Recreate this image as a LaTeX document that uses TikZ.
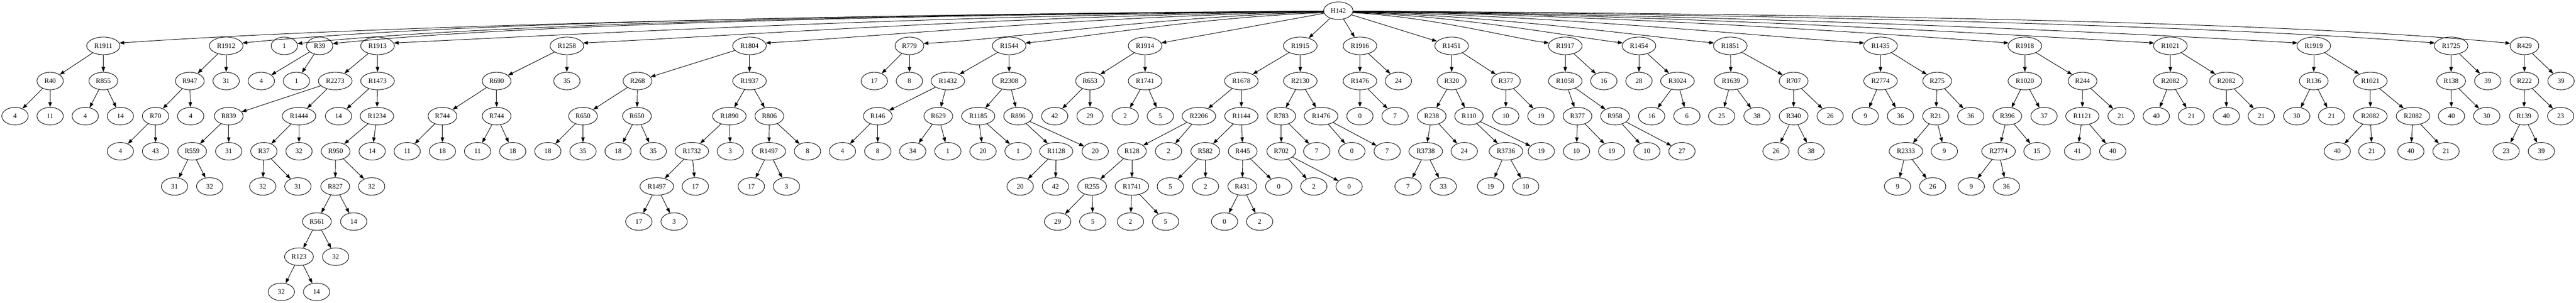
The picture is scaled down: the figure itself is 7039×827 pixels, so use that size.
\documentclass[tikz,border=0pt]{standalone}
\usepackage{fontspec}
\setmainfont{Liberation Serif}
\usetikzlibrary{arrows.meta,shapes.geometric}
\newcommand\mkN[4]{\node[nd] (#1) at (#2,{-29.3-96*#3}) {#4};}
\newcommand\mkE[2]{\draw[edge] (#1) -- (#2);}
\newcommand\mkC[5]{\draw[edge] (H.#2) .. controls #4 and #5 .. (#1.#3);}
\begin{document}
\begin{tikzpicture}[x=0.09375pt,y=0.09375pt,
  nd/.style={draw,ellipse,line width=0.125pt,minimum width=6.75pt,minimum height=4.5pt,
    inner xsep=0.7125pt,inner ysep=0.25pt,font=\fontsize{1.75pt}{2pt}\selectfont},
  edge/.style={line width=0.125pt,-{Triangle[length=1.25pt,width=0.9pt]}}]
\fill[white] (0,0) rectangle (7039,-827);
\useasboundingbox (0,0) rectangle (7039,-827);
% root
\mkN{H}{3657}{0}{H142}
% level 1
\mkN{a1}{282.4}{1}{R1911}
\mkN{a2}{618}{1}{R1912}
\mkN{a3}{777}{1}{1}
\mkN{a4}{873.5}{1}{R39}
\mkN{a5}{1031.6}{1}{R1913}
\mkN{a6}{1549}{1}{R1258}
\mkN{a7}{2048}{1}{R1804}
\mkN{a8}{2485}{1}{R779}
\mkN{a9}{2757.5}{1}{R1544}
\mkN{a10}{3129}{1}{R1914}
\mkN{a11}{3553}{1}{R1915}
\mkN{a12}{3716}{1}{R1916}
\mkN{a13}{3966.6}{1}{R1451}
\mkN{a14}{4277}{1}{R1917}
\mkN{a15}{4478.5}{1}{R1454}
\mkN{a16}{4728}{1}{R1851}
\mkN{a17}{5138.5}{1}{R1435}
\mkN{a18}{5533}{1}{R1918}
\mkN{a19}{5930.5}{1}{R1021}
\mkN{a20}{6322.4}{1}{R1919}
\mkN{a21}{6697.6}{1}{R1725}
\mkN{a22}{6898}{1}{R429}
% a1
\mkN{b1}{137}{2}{R40}
\mkN{b2}{282.4}{2}{R855}
\mkN{c1}{41}{3}{4}
\mkN{c2}{137}{3}{11}
\mkN{c3}{233}{3}{4}
\mkN{c4}{329}{3}{14}
% a2
\mkN{b3}{518.6}{2}{R947}
\mkN{b4}{618}{2}{31}
\mkN{c5}{425}{3}{R70}
\mkN{c6}{521}{3}{4}
\mkN{d1}{329}{4}{4}
\mkN{d2}{425}{4}{43}
% a4
\mkN{b5}{714}{2}{4}
\mkN{b6}{810}{2}{1}
% a5
\mkN{b7}{916}{2}{R2273}
\mkN{b8}{1031.6}{2}{R1473}
\mkN{c7}{625}{3}{R839}
\mkN{c8}{817}{3}{R1444}
\mkN{d3}{525}{4}{R559}
\mkN{d4}{625}{4}{31}
\mkN{e1}{477}{5}{31}
\mkN{e2}{573}{5}{32}
\mkN{d5}{721}{4}{R37}
\mkN{d6}{817}{4}{32}
\mkN{e3}{718}{5}{32}
\mkN{e4}{814}{5}{31}
\mkN{c9}{925}{3}{14}
\mkN{c10}{1030}{3}{R1234}
\mkN{d7}{917}{4}{R950}
\mkN{d8}{1017}{4}{14}
\mkN{e5}{916}{5}{R827}
\mkN{e6}{1015.5}{5}{32}
\mkN{f1}{866}{6}{R561}
\mkN{f2}{966.5}{6}{14}
\mkN{g1}{817}{7}{R123}
\mkN{g2}{917}{7}{32}
\mkN{h1}{768.7}{8}{32}
\mkN{h2}{865}{8}{14}
% a6
\mkN{b9}{1357}{2}{R690}
\mkN{b10}{1549}{2}{35}
\mkN{c11}{1209}{3}{R744}
\mkN{c12}{1357}{3}{R744}
\mkN{d9}{1112.7}{4}{11}
\mkN{d10}{1209}{4}{18}
\mkN{d11}{1305}{4}{11}
\mkN{d12}{1401}{4}{18}
% a7
\mkN{b11}{1742}{2}{R268}
\mkN{b12}{2048}{2}{R1937}
\mkN{c13}{1593}{3}{R650}
\mkN{c14}{1740.5}{3}{R650}
\mkN{d13}{1497}{4}{18}
\mkN{d14}{1593}{4}{35}
\mkN{d15}{1689}{4}{18}
\mkN{d16}{1785}{4}{35}
\mkN{c15}{1993}{3}{R1890}
\mkN{c16}{2102.4}{3}{R806}
\mkN{d17}{1890.4}{4}{R1732}
\mkN{d18}{1995.6}{4}{3}
\mkN{e7}{1794.7}{5}{R1497}
\mkN{e8}{1900}{5}{17}
\mkN{f3}{1745.7}{6}{17}
\mkN{f4}{1842}{6}{3}
\mkN{d19}{2101}{4}{R1497}
\mkN{d20}{2206.5}{4}{8}
\mkN{e9}{2053}{5}{17}
\mkN{e10}{2149}{5}{3}
% a8
\mkN{b13}{2389}{2}{17}
\mkN{b14}{2485}{2}{8}
% a9
\mkN{b15}{2590}{2}{R1432}
\mkN{b16}{2757.5}{2}{R2308}
\mkN{c17}{2398.5}{3}{R146}
\mkN{c18}{2564}{3}{R629}
\mkN{d21}{2302}{4}{4}
\mkN{d22}{2398.5}{4}{8}
\mkN{d23}{2494}{4}{34}
\mkN{d24}{2590}{4}{1}
\mkN{c19}{2673}{3}{R1185}
\mkN{c20}{2782}{3}{R896}
\mkN{d25}{2686}{4}{20}
\mkN{d26}{2782}{4}{1}
\mkN{d27}{2886}{4}{R1128}
\mkN{d28}{2992.7}{4}{20}
\mkN{e11}{2787.7}{5}{20}
\mkN{e12}{2884}{5}{42}
% a10
\mkN{b17}{2978.5}{2}{R653}
\mkN{b18}{3129}{2}{R1741}
\mkN{c21}{2882}{3}{42}
\mkN{c22}{2978.5}{3}{29}
\mkN{c23}{3074.6}{3}{2}
\mkN{c24}{3170.7}{3}{5}
% a11
\mkN{b19}{3392}{2}{R1678}
\mkN{b20}{3553}{2}{R2130}
\mkN{c25}{3276}{3}{R2206}
\mkN{c26}{3392}{3}{R1144}
\mkN{d29}{3093}{4}{R128}
\mkN{d30}{3193}{4}{2}
\mkN{e13}{2984}{5}{R255}
\mkN{e14}{3093}{5}{R1741}
\mkN{f5}{2890}{6}{29}
\mkN{f6}{2986}{6}{5}
\mkN{f7}{3089}{6}{2}
\mkN{f8}{3185}{6}{5}
\mkN{d31}{3293.5}{4}{R582}
\mkN{d32}{3395.7}{4}{R445}
\mkN{e15}{3198}{5}{5}
\mkN{e16}{3294}{5}{2}
\mkN{e17}{3394.6}{5}{R431}
\mkN{e18}{3494}{5}{0}
\mkN{f9}{3346}{6}{0}
\mkN{f10}{3442}{6}{2}
\mkN{c27}{3501}{3}{R783}
\mkN{c28}{3610}{3}{R1476}
\mkN{d33}{3501}{4}{R702}
\mkN{d34}{3598}{4}{7}
\mkN{e19}{3590}{5}{2}
\mkN{e20}{3686.4}{5}{0}
\mkN{d35}{3694}{4}{0}
\mkN{d36}{3790.5}{4}{7}
% a12
\mkN{b21}{3716}{2}{R1476}
\mkN{b22}{3821}{2}{24}
\mkN{c29}{3716}{3}{0}
\mkN{c30}{3812}{3}{7}
% a13
\mkN{b23}{3966.6}{2}{R320}
\mkN{b24}{4115}{2}{R377}
\mkN{c31}{3912}{3}{R238}
\mkN{c32}{4014}{3}{R110}
\mkN{d37}{3895.8}{4}{R3738}
\mkN{d38}{4001}{4}{24}
\mkN{e21}{3847.5}{5}{7}
\mkN{e22}{3943.6}{5}{33}
\mkN{d39}{4115}{4}{R3736}
\mkN{d40}{4211.7}{4}{19}
\mkN{e23}{4073}{5}{19}
\mkN{e24}{4169}{5}{10}
\mkN{c33}{4114.5}{3}{10}
\mkN{c34}{4210.6}{3}{19}
% a14
\mkN{b25}{4277}{2}{R1058}
\mkN{b26}{4382.4}{2}{16}
\mkN{c35}{4310.5}{3}{R377}
\mkN{c36}{4413}{3}{R958}
\mkN{d41}{4307.8}{4}{10}
\mkN{d42}{4403.9}{4}{19}
\mkN{d43}{4500}{4}{10}
\mkN{d44}{4596}{4}{27}
% a15
\mkN{b27}{4478.5}{2}{28}
\mkN{b28}{4583.7}{2}{R3024}
\mkN{c37}{4513}{3}{16}
\mkN{c38}{4609.4}{3}{6}
% a16
\mkN{b29}{4730}{2}{R1639}
\mkN{b30}{4901}{2}{R707}
\mkN{c39}{4704.5}{3}{25}
\mkN{c40}{4801}{3}{38}
\mkN{c41}{4901}{3}{R340}
\mkN{c42}{5001}{3}{26}
\mkN{d45}{4853}{4}{26}
\mkN{d46}{4949}{4}{38}
% a17
\mkN{b31}{5138.5}{2}{R2774}
\mkN{b32}{5293.4}{2}{R275}
\mkN{c43}{5097}{3}{9}
\mkN{c44}{5193}{3}{36}
\mkN{c45}{5289.6}{3}{R21}
\mkN{c46}{5385}{3}{36}
\mkN{d47}{5208}{4}{R2333}
\mkN{d48}{5313}{4}{9}
\mkN{e25}{5185}{5}{9}
\mkN{e26}{5281}{5}{26}
% a18
\mkN{b33}{5533}{2}{R1020}
\mkN{b34}{5690.6}{2}{R244}
\mkN{c47}{5485}{3}{R396}
\mkN{c48}{5585.4}{3}{37}
\mkN{d49}{5461}{4}{R2774}
\mkN{d50}{5566}{4}{15}
\mkN{e27}{5386.4}{5}{9}
\mkN{e28}{5482.4}{5}{36}
\mkN{c49}{5690}{3}{R1121}
\mkN{c50}{5796}{3}{21}
\mkN{d51}{5677}{4}{41}
\mkN{d52}{5773}{4}{40}
% a19
\mkN{b35}{5930.5}{2}{R2082}
\mkN{b36}{6083.5}{2}{R2082}
\mkN{c51}{5892}{3}{40}
\mkN{c52}{5988}{3}{21}
\mkN{c53}{6083.5}{3}{40}
\mkN{c54}{6179}{3}{21}
% a20
\mkN{b37}{6322.4}{2}{R136}
\mkN{b38}{6477}{2}{R1021}
\mkN{c55}{6275.7}{3}{30}
\mkN{c56}{6371}{3}{21}
\mkN{c57}{6477}{3}{R2082}
\mkN{c58}{6593.5}{3}{R2082}
\mkN{d53}{6386.6}{4}{40}
\mkN{d54}{6481}{4}{21}
\mkN{d55}{6587.7}{4}{40}
\mkN{d56}{6683.8}{4}{21}
% a21
\mkN{b39}{6697.6}{2}{R138}
\mkN{b40}{6797.8}{2}{39}
\mkN{c59}{6698.7}{3}{40}
\mkN{c60}{6795}{3}{30}
% a22
\mkN{b41}{6898}{2}{R222}
\mkN{b42}{6998}{2}{39}
\mkN{c61}{6896.6}{3}{R139}
\mkN{c62}{6997}{3}{23}
\mkN{d57}{6848}{4}{23}
\mkN{d58}{6944.4}{4}{39}
% root edges
\mkC{a1}{181}{10}{(2301,-38.8)}{(984,-72)}
\mkC{a2}{182}{10}{(2435,-39.5)}{(1253,-59)}
\mkC{a3}{182}{10}{(2495,-39.5)}{(1373,-62)}
\mkC{a4}{183}{10}{(2534,-40)}{(1450,-64)}
\mkC{a5}{183}{10}{(2601,-40)}{(1584,-92.6)}
\mkC{a6}{184}{10}{(2807,-41)}{(1998,-98)}
\mkC{a7}{185}{10}{(3007,-42)}{(2397,-99.7)}
\mkC{a8}{186}{10}{(3179,-43)}{(2742,-109)}
\mkC{a9}{188}{10}{(3291,-46)}{(2965,-101.7)}
\mkE{H}{a10}
\mkE{H}{a11}
\mkE{H}{a12}
\mkE{H}{a13}
\mkC{a14}{352}{170}{(3911,-46)}{(4126,-103)}
\mkC{a15}{353}{170}{(3992,-44)}{(4287,-99)}
\mkC{a16}{354}{170}{(4092,-43)}{(4487,-98.3)}
\mkC{a17}{355}{170}{(4256,-42)}{(4815,-99.8)}
\mkC{a18}{356}{170}{(4414,-41)}{(5131,-91)}
\mkC{a19}{357}{170}{(4573,-40)}{(5448.5,-92.6)}
\mkC{a20}{357}{170}{(4730,-40)}{(5762,-87)}
\mkC{a21}{358}{170}{(4880,-39.5)}{(6062.6,-70.7)}
\mkC{a22}{359}{170}{(4962,-38.8)}{(6227,-57)}
% subtree edges
\mkE{a1}{b1}\mkE{a1}{b2}\mkE{b1}{c1}\mkE{b1}{c2}\mkE{b2}{c3}\mkE{b2}{c4}
\mkE{a2}{b3}\mkE{a2}{b4}\mkE{b3}{c5}\mkE{b3}{c6}\mkE{c5}{d1}\mkE{c5}{d2}
\mkE{a4}{b5}\mkE{a4}{b6}
\mkE{a5}{b7}\mkE{a5}{b8}\mkE{b7}{c7}\mkE{b7}{c8}\mkE{c7}{d3}\mkE{c7}{d4}
\mkE{d3}{e1}\mkE{d3}{e2}\mkE{c8}{d5}\mkE{c8}{d6}\mkE{d5}{e3}\mkE{d5}{e4}
\mkE{b8}{c9}\mkE{b8}{c10}\mkE{c10}{d7}\mkE{c10}{d8}\mkE{d7}{e5}\mkE{d7}{e6}
\mkE{e5}{f1}\mkE{e5}{f2}\mkE{f1}{g1}\mkE{f1}{g2}\mkE{g1}{h1}\mkE{g1}{h2}
\mkE{a6}{b9}\mkE{a6}{b10}\mkE{b9}{c11}\mkE{b9}{c12}\mkE{c11}{d9}\mkE{c11}{d10}
\mkE{c12}{d11}\mkE{c12}{d12}
\mkE{a7}{b11}\mkE{a7}{b12}\mkE{b11}{c13}\mkE{b11}{c14}\mkE{c13}{d13}\mkE{c13}{d14}
\mkE{c14}{d15}\mkE{c14}{d16}\mkE{b12}{c15}\mkE{b12}{c16}\mkE{c15}{d17}\mkE{c15}{d18}
\mkE{d17}{e7}\mkE{d17}{e8}\mkE{e7}{f3}\mkE{e7}{f4}\mkE{c16}{d19}\mkE{c16}{d20}
\mkE{d19}{e9}\mkE{d19}{e10}
\mkE{a8}{b13}\mkE{a8}{b14}
\mkE{a9}{b15}\mkE{a9}{b16}\mkE{b15}{c17}\mkE{b15}{c18}\mkE{c17}{d21}\mkE{c17}{d22}
\mkE{c18}{d23}\mkE{c18}{d24}\mkE{b16}{c19}\mkE{b16}{c20}\mkE{c19}{d25}\mkE{c19}{d26}
\mkE{c20}{d27}\mkE{c20}{d28}\mkE{d27}{e11}\mkE{d27}{e12}
\mkE{a10}{b17}\mkE{a10}{b18}\mkE{b17}{c21}\mkE{b17}{c22}\mkE{b18}{c23}\mkE{b18}{c24}
\mkE{a11}{b19}\mkE{a11}{b20}\mkE{b19}{c25}\mkE{b19}{c26}\mkE{c25}{d29}\mkE{c25}{d30}
\mkE{d29}{e13}\mkE{d29}{e14}\mkE{e13}{f5}\mkE{e13}{f6}\mkE{e14}{f7}\mkE{e14}{f8}
\mkE{c26}{d31}\mkE{c26}{d32}\mkE{d31}{e15}\mkE{d31}{e16}\mkE{d32}{e17}\mkE{d32}{e18}
\mkE{e17}{f9}\mkE{e17}{f10}\mkE{b20}{c27}\mkE{b20}{c28}\mkE{c27}{d33}\mkE{c27}{d34}
\mkE{d33}{e19}\mkE{d33}{e20}\mkE{c28}{d35}\mkE{c28}{d36}
\mkE{a12}{b21}\mkE{a12}{b22}\mkE{b21}{c29}\mkE{b21}{c30}
\mkE{a13}{b23}\mkE{a13}{b24}\mkE{b23}{c31}\mkE{b23}{c32}\mkE{c31}{d37}\mkE{c31}{d38}
\mkE{d37}{e21}\mkE{d37}{e22}\mkE{c32}{d39}\mkE{c32}{d40}\mkE{d39}{e23}\mkE{d39}{e24}
\mkE{b24}{c33}\mkE{b24}{c34}
\mkE{a14}{b25}\mkE{a14}{b26}\mkE{b25}{c35}\mkE{b25}{c36}\mkE{c35}{d41}\mkE{c35}{d42}
\mkE{c36}{d43}\mkE{c36}{d44}
\mkE{a15}{b27}\mkE{a15}{b28}\mkE{b28}{c37}\mkE{b28}{c38}
\mkE{a16}{b29}\mkE{a16}{b30}\mkE{b29}{c39}\mkE{b29}{c40}\mkE{b30}{c41}\mkE{b30}{c42}
\mkE{c41}{d45}\mkE{c41}{d46}
\mkE{a17}{b31}\mkE{a17}{b32}\mkE{b31}{c43}\mkE{b31}{c44}\mkE{b32}{c45}\mkE{b32}{c46}
\mkE{c45}{d47}\mkE{c45}{d48}\mkE{d47}{e25}\mkE{d47}{e26}
\mkE{a18}{b33}\mkE{a18}{b34}\mkE{b33}{c47}\mkE{b33}{c48}\mkE{c47}{d49}\mkE{c47}{d50}
\mkE{d49}{e27}\mkE{d49}{e28}\mkE{b34}{c49}\mkE{b34}{c50}\mkE{c49}{d51}\mkE{c49}{d52}
\mkE{a19}{b35}\mkE{a19}{b36}\mkE{b35}{c51}\mkE{b35}{c52}\mkE{b36}{c53}\mkE{b36}{c54}
\mkE{a20}{b37}\mkE{a20}{b38}\mkE{b37}{c55}\mkE{b37}{c56}\mkE{b38}{c57}\mkE{b38}{c58}
\mkE{c57}{d53}\mkE{c57}{d54}\mkE{c58}{d55}\mkE{c58}{d56}
\mkE{a21}{b39}\mkE{a21}{b40}\mkE{b39}{c59}\mkE{b39}{c60}
\mkE{a22}{b41}\mkE{a22}{b42}\mkE{b41}{c61}\mkE{b41}{c62}\mkE{c61}{d57}\mkE{c61}{d58}
\end{tikzpicture}
\end{document}
